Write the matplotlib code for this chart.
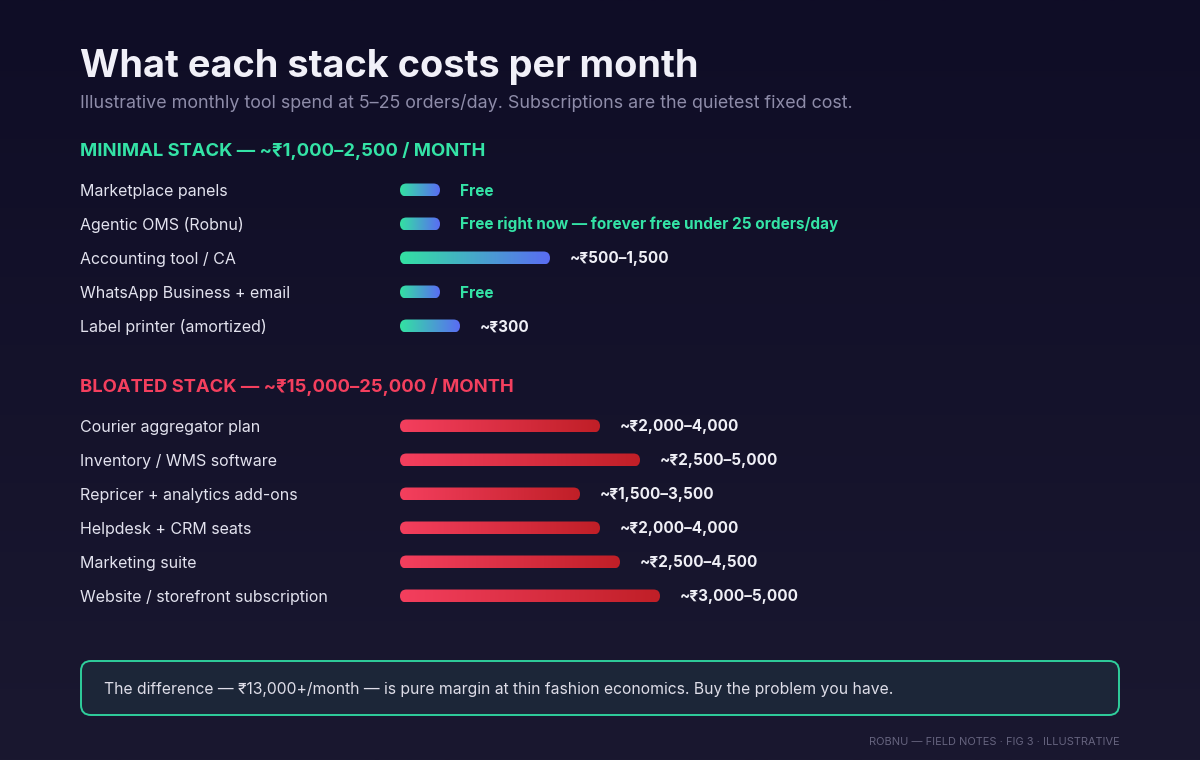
import numpy as np
import matplotlib
matplotlib.use("Agg")
import matplotlib.pyplot as plt
from matplotlib.colors import LinearSegmentedColormap
from matplotlib.patches import FancyBboxPatch

plt.rcParams['font.family'] = ['Inter', 'DejaVu Sans']

# ---------------- data ----------------
title = "What each stack costs per month"
subtitle = "Illustrative monthly tool spend at 5\u201325 orders/day. Subscriptions are the quietest fixed cost."

minimal_header = "MINIMAL STACK \u2014 ~\u20b91,000\u20132,500 / MONTH"
minimal_labels = ["Marketplace panels", "Agentic OMS (Robnu)", "Accounting tool / CA",
                  "WhatsApp Business + email", "Label printer (amortized)"]
minimal_values = ["Free", "Free right now \u2014 forever free under 25 orders/day",
                  "~\u20b9500\u20131,500", "Free", "~\u20b9300"]
minimal_free = [True, True, False, True, False]
minimal_bar = [2, 2, 7.5, 2, 3]          # relative bar length

bloated_header = "BLOATED STACK \u2014 ~\u20b915,000\u201325,000 / MONTH"
bloated_labels = ["Courier aggregator plan", "Inventory / WMS software",
                  "Repricer + analytics add-ons", "Helpdesk + CRM seats",
                  "Marketing suite", "Website / storefront subscription"]
bloated_values = ["~\u20b92,000\u20134,000", "~\u20b92,500\u20135,000", "~\u20b91,500\u20133,500",
                  "~\u20b92,000\u20134,000", "~\u20b92,500\u20134,500", "~\u20b93,000\u20135,000"]
bloated_bar = [10, 12, 9, 10, 11, 13]

callout = ("The difference \u2014 \u20b913,000+/month \u2014 is pure margin at thin fashion "
           "economics. Buy the problem you have.")
footer = "ROBNU \u2014 FIELD NOTES \u00b7 FIG 3 \u00b7 ILLUSTRATIVE"

# ---------------- style ----------------
W, H = 1200, 760
PX_PER_UNIT = 20
BAR_X0 = 400
BAR_H = 13
TEAL = "#34e3a6"
RED = "#f43f5e"
LABEL_C = "#e2e2ee"
VALUE_C = "#efeff6"

fig = plt.figure(figsize=(W / 100, H / 100), dpi=100)
ax = fig.add_axes([0, 0, 1, 1])
ax.set_xlim(0, W)
ax.set_ylim(H, 0)
ax.axis("off")

# background gradient
bg = LinearSegmentedColormap.from_list("bg", ["#0f0d26", "#1a1830"])
ax.imshow(np.linspace(0, 1, 256).reshape(-1, 1), cmap=bg, extent=(0, W, H, 0),
          aspect="auto", zorder=0)

ax.text(80, 77, title, fontsize=27.3, fontweight="bold", color="#f1f0f8",
        va="baseline", ha="left")
ax.text(80, 108, subtitle, fontsize=12.9, color="#8e8ca9", va="baseline", ha="left")

cm_min = LinearSegmentedColormap.from_list("mn", ["#33e2a2", "#5a6cf3"])
cm_red = LinearSegmentedColormap.from_list("rd", ["#f43f5e", "#c01f27"])


def draw_section(header, header_c, header_base, labels, values, bars, rows_y, cmap, free=None):
    ax.text(80, header_base, header, fontsize=13.25, fontweight="bold", color=header_c,
            va="baseline", ha="left")
    widths = [b * PX_PER_UNIT for b in bars]
    cont = ax.barh(rows_y, widths, left=BAR_X0, height=BAR_H, color="none", zorder=1)
    grad = np.linspace(0, 1, 256).reshape(1, -1)
    for i, rect in enumerate(cont.patches):
        x0, y0 = rect.get_x(), rect.get_y()
        w, h = rect.get_width(), rect.get_height()
        clip = FancyBboxPatch((x0, y0), w, h, boxstyle=f"round,pad=0,rounding_size={h/2}",
                              transform=ax.transData, facecolor="none", edgecolor="none")
        ax.add_patch(clip)
        im = ax.imshow(grad, cmap=cmap, extent=(x0, x0 + w, y0 + h, y0),
                       aspect="auto", zorder=2, interpolation="bilinear")
        im.set_clip_path(clip)
        yc = rows_y[i]
        ax.text(80, yc + 6, labels[i], fontsize=11.5, color=LABEL_C, va="baseline", ha="left")
        is_free = free[i] if free is not None else False
        ax.text(x0 + w + 20, yc + 5.5, values[i], fontsize=11, fontweight="bold",
                color=TEAL if is_free else VALUE_C, va="baseline", ha="left")


min_rows = [190 + 34 * i for i in range(len(minimal_labels))]
bl_rows = [426 + 34 * i for i in range(len(bloated_labels))]
draw_section(minimal_header, TEAL, 156, minimal_labels, minimal_values, minimal_bar,
             min_rows, cm_min, minimal_free)
draw_section(bloated_header, RED, 392, bloated_labels, bloated_values, bloated_bar,
             bl_rows, cm_red)

ax.set_xlim(0, W)
ax.set_ylim(H, 0)

# callout box
box = FancyBboxPatch((81, 661), 1038, 54, boxstyle="round,pad=0,rounding_size=10",
                     facecolor="#1c2638", edgecolor="#2fcf9c", linewidth=1.4, zorder=3)
ax.add_patch(box)
ax.text(104, 694, callout, fontsize=11.3, color="#dedde8", va="baseline", ha="left", zorder=4)

ax.text(1120, 745, footer, fontsize=7.9, color="#66647f", va="baseline", ha="right")

fig.savefig("out.png", dpi=100, facecolor="#0f0d26")
